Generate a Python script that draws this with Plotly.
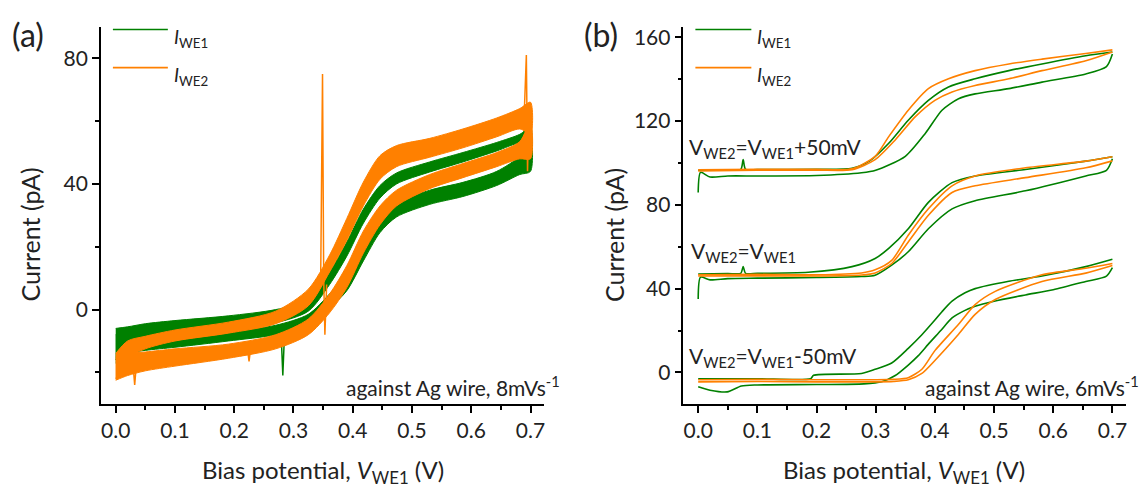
import plotly.graph_objects as go

GREEN = "#008000"
ORANGE = "#ff8000"
FONT = "Lato"

# ---------------- Panel (a): noisy bands (lo / hi edges) ----------------
A_X = [0.0, 0.02, 0.05, 0.1, 0.19, 0.27, 0.325, 0.361, 0.39, 0.418, 0.446, 0.474, 0.53, 0.586, 0.643, 0.682, 0.70]

A_G_LOW_LO = [-17, -14, -13, -12, -10, -8, -5, 0.5, 6, 15.5, 24.5, 29.5, 33.5, 36, 39.5, 43, 44]
A_G_LOW_HI = [-8, -9, -9, -8.5, -7, -5, -1.5, 5, 11.5, 21, 30, 34, 38, 40.5, 44, 49, 56]

A_G_UP_LO = [-16, -11.5, -9.5, -8, -6.3, -4.2, -0.5, 8, 17, 27.5, 35.5, 40, 43.8, 47, 50.5, 53, 52]
A_G_UP_HI = [-6, -5.5, -4.5, -3.5, -2, 0, 3, 12, 21.5, 32, 39.5, 43.5, 47, 50, 53.2, 55.8, 58]

A_O_LOW_LO = [-22.5, -21, -19.5, -18, -15.5, -12.5, -8, -1, 7, 18, 27, 33, 38.5, 42, 45.5, 48, 48]
A_O_LOW_HI = [-15, -14, -13.5, -12.5, -11, -8, -3, 5, 14, 25, 33, 38, 43, 46.5, 50, 53.5, 60]

A_O_UP_LO = [-22, -15.5, -12.5, -10, -7.5, -4.5, 1.2, 12, 22, 33, 41.5, 45.5, 48.5, 51.5, 55, 57.5, 56]
A_O_UP_HI = [-14, -10, -8.5, -6.5, -4, -0.5, 6.5, 17.4, 29, 40.6, 49, 52.2, 54.5, 57.5, 61, 64, 66]

# spikes in panel (a)
A_SPK_O1_X = [0.346, 0.349, 0.351, 0.353, 0.356]
A_SPK_O1_Y = [12, 75, 10, -8, 8]
A_SPK_O2_X = [0.689, 0.693, 0.695, 0.697]
A_SPK_O2_Y = [60, 81, 44, 62]
A_SPK_O3_X = [0.029, 0.032, 0.035]
A_SPK_O3_Y = [-17, -24, -17]
A_SPK_O4_X = [0.222, 0.225, 0.228]
A_SPK_O4_Y = [-12, -16.5, -12]
A_SPK_G1_X = [0.279, 0.282, 0.285]
A_SPK_G1_Y = [-7, -21, -7]

# ---------------- Panel (b): three groups of CV curves ----------------
# +50 mV group
B1_G_FWD_X = [0.0, 0.004, 0.02, 0.05, 0.1, 0.2, 0.276, 0.3, 0.35, 0.384, 0.412, 0.44, 0.468, 0.525, 0.581, 0.655, 0.69, 0.70]
B1_G_FWD_Y = [85.9, 95.5, 93.3, 93.8, 93.8, 94.0, 95.3, 96.5, 103.2, 114.2, 125.2, 130.7, 133.0, 135.5, 138.6, 142.5, 146.0, 152.0]
B1_G_REV_X = [0.0, 0.05, 0.072, 0.076, 0.08, 0.1, 0.2, 0.26, 0.29, 0.322, 0.355, 0.389, 0.423, 0.468, 0.525, 0.581, 0.655, 0.70]
B1_G_REV_Y = [96.5, 96.8, 97.0, 101.6, 97.0, 96.9, 97.0, 97.5, 101.0, 109.4, 120.4, 129.9, 136.3, 140.2, 144.1, 147.3, 151.2, 153.0]
B1_O_A_X = [0.0, 0.1, 0.2, 0.26, 0.299, 0.322, 0.355, 0.389, 0.423, 0.468, 0.525, 0.581, 0.655, 0.70]
B1_O_A_Y = [96.8, 97.0, 97.0, 97.2, 103.2, 112.6, 125.2, 135.5, 140.2, 144.1, 147.3, 149.6, 152.3, 154.0]
B1_O_B_X = [0.0, 0.1, 0.2, 0.26, 0.299, 0.333, 0.367, 0.40, 0.429, 0.468, 0.525, 0.581, 0.655, 0.70]
B1_O_B_Y = [96.2, 96.5, 96.6, 96.8, 101.6, 111.0, 122.1, 129.9, 133.9, 137.0, 140.2, 144.1, 148.8, 153.0]

# equal potential group
B2_G_FWD_X = [0.0, 0.004, 0.02, 0.05, 0.1, 0.2, 0.276, 0.299, 0.327, 0.355, 0.389, 0.429, 0.468, 0.553, 0.655, 0.69, 0.70]
B2_G_FWD_Y = [35.0, 45.5, 44.2, 44.8, 45.0, 45.3, 45.8, 46.4, 51.2, 57.6, 68.6, 78.1, 82.0, 86.7, 93.8, 96.5, 102.0]
B2_G_REV_X = [0.0, 0.05, 0.072, 0.076, 0.08, 0.1, 0.186, 0.26, 0.299, 0.322, 0.355, 0.389, 0.429, 0.468, 0.553, 0.655, 0.70]
B2_G_REV_Y = [47.0, 47.2, 47.3, 50.5, 47.3, 47.3, 47.8, 50.5, 54.4, 59.2, 68.6, 81.2, 90.6, 93.8, 96.9, 100.9, 103.0]
B2_O_A_X = [0.0, 0.1, 0.2, 0.276, 0.299, 0.327, 0.355, 0.389, 0.429, 0.468, 0.553, 0.655, 0.70]
B2_O_A_Y = [46.6, 46.8, 46.6, 47.5, 49.0, 53.5, 65.5, 78.1, 89.1, 93.8, 97.7, 100.9, 103.0]
B2_O_B_X = [0.0, 0.1, 0.2, 0.276, 0.299, 0.327, 0.355, 0.389, 0.429, 0.468, 0.553, 0.655, 0.70]
B2_O_B_Y = [46.0, 46.1, 46.0, 46.5, 47.5, 52.0, 62.3, 75.0, 85.9, 89.1, 93.0, 97.7, 101.0]

# -50 mV group
B3_G_FWD_X = [0.0, 0.02, 0.049, 0.073, 0.1, 0.2, 0.28, 0.31, 0.333, 0.355, 0.372, 0.389, 0.41, 0.429, 0.45, 0.468, 0.5, 0.553, 0.6, 0.655, 0.69, 0.70]
B3_G_FWD_Y = [-6.9, -8.5, -9.3, -6.5, -6.0, -5.8, -5.5, -4.5, -1.5, 3.5, 8.0, 13.5, 20.0, 26.0, 29.5, 31.6, 34.0, 37.0, 39.5, 43.4, 46.0, 50.0]
B3_G_REV_X = [0.0, 0.1, 0.19, 0.195, 0.276, 0.299, 0.327, 0.355, 0.378, 0.40, 0.412, 0.429, 0.451, 0.468, 0.525, 0.581, 0.655, 0.70]
B3_G_REV_Y = [-3.0, -3.0, -3.0, -1.4, -0.5, 1.5, 4.5, 11.5, 18.0, 25.0, 29.0, 34.0, 38.0, 40.0, 43.5, 46.0, 50.5, 54.0]
B3_O_A_X = [0.0, 0.1, 0.2, 0.3, 0.33, 0.355, 0.378, 0.40, 0.44, 0.468, 0.502, 0.581, 0.655, 0.70]
B3_O_A_Y = [-3.5, -3.3, -3.5, -3.5, -3.3, -2.5, 1.5, 10.4, 23.0, 32.4, 38.7, 46.6, 49.7, 52.0]
B3_O_B_X = [0.0, 0.1, 0.2, 0.3, 0.33, 0.355, 0.378, 0.40, 0.44, 0.468, 0.502, 0.581, 0.655, 0.70]
B3_O_B_Y = [-4.5, -4.3, -4.5, -4.5, -4.3, -3.5, -0.5, 5.7, 18.2, 27.7, 34.8, 43.4, 47.4, 51.0]

# axis settings
A_YRANGE = [-30, 90]
B_YRANGE = [-15, 165]
XRANGE = [-0.025, 0.723]
A_YTICKS = [0, 40, 80]
B_YTICKS = [0, 40, 80, 120, 160]
X_TICKS = [0.0, 0.1, 0.2, 0.3, 0.4, 0.5, 0.6, 0.7]

fig = go.Figure()


def band(x, lo, hi, color, xa, ya):
    fig.add_trace(go.Scatter(
        x=list(x) + list(x)[::-1], y=list(lo) + list(hi)[::-1],
        fill="toself", fillcolor=color, mode="lines",
        line=dict(color=color, width=1, shape="spline", smoothing=0.8),
        xaxis=xa, yaxis=ya, showlegend=False, hoverinfo="skip"))


def curve(x, y, color, xa, ya, w=1.6, shape="spline"):
    line = dict(color=color, width=w, shape=shape)
    if shape == "spline":
        line["smoothing"] = 0.7
    fig.add_trace(go.Scatter(x=x, y=y, mode="lines", line=line,
                             xaxis=xa, yaxis=ya, showlegend=False, hoverinfo="skip"))


# panel (a)
band(A_X, A_G_LOW_LO, A_G_LOW_HI, GREEN, "x", "y")
band(A_X, A_G_UP_LO, A_G_UP_HI, GREEN, "x", "y")
curve(A_SPK_G1_X, A_SPK_G1_Y, GREEN, "x", "y", 1.5, "linear")
band(A_X, A_O_LOW_LO, A_O_LOW_HI, ORANGE, "x", "y")
band(A_X, A_O_UP_LO, A_O_UP_HI, ORANGE, "x", "y")
for sx, sy in [(A_SPK_O1_X, A_SPK_O1_Y), (A_SPK_O2_X, A_SPK_O2_Y),
               (A_SPK_O3_X, A_SPK_O3_Y), (A_SPK_O4_X, A_SPK_O4_Y)]:
    curve(sx, sy, ORANGE, "x", "y", 1.5, "linear")

# panel (b)
for gx, gy in [(B1_G_FWD_X, B1_G_FWD_Y), (B1_G_REV_X, B1_G_REV_Y),
               (B2_G_FWD_X, B2_G_FWD_Y), (B2_G_REV_X, B2_G_REV_Y),
               (B3_G_FWD_X, B3_G_FWD_Y), (B3_G_REV_X, B3_G_REV_Y)]:
    curve(gx, gy, GREEN, "x2", "y2")
for ox, oy in [(B1_O_A_X, B1_O_A_Y), (B1_O_B_X, B1_O_B_Y),
               (B2_O_A_X, B2_O_A_Y), (B2_O_B_X, B2_O_B_Y),
               (B3_O_A_X, B3_O_A_Y), (B3_O_B_X, B3_O_B_Y)]:
    curve(ox, oy, ORANGE, "x2", "y2")

W, H = 1148, 488
AX_L, AX_R = 101 / W, 544.6 / W
BX_L, BX_R = 684 / W, 1127 / W
Y_B, Y_T = 1 - 403.3 / H, 1 - 24 / H

TICKFONT = dict(family=FONT, size=21, color="#222")
common_x = dict(range=XRANGE, tickvals=X_TICKS, ticktext=[f"{v:.1f}" for v in X_TICKS],
                showline=True, linecolor="black", linewidth=1.5, ticks="outside",
                ticklen=7, tickwidth=1.5, tickcolor="black", showgrid=False, zeroline=False,
                minor=dict(ticks="outside", ticklen=4, tickwidth=1.5, tickcolor="black", dtick=0.05, tick0=0),
                tickfont=TICKFONT, mirror=False)
common_y = dict(showline=True, linecolor="black", linewidth=1.5, ticks="outside",
                ticklen=7, tickwidth=1.5, tickcolor="black", showgrid=False, zeroline=False,
                tickfont=TICKFONT, mirror=False)

fig.update_layout(
    width=W, height=H, margin=dict(l=0, r=0, t=0, b=0),
    paper_bgcolor="white", plot_bgcolor="white", showlegend=False,
    font=dict(family=FONT, color="#222"),
    xaxis=dict(domain=[AX_L, AX_R], anchor="y", **common_x),
    yaxis=dict(domain=[Y_B, Y_T], anchor="x", range=A_YRANGE, tickvals=A_YTICKS,
               minor=dict(ticks="outside", ticklen=4, tickwidth=1.5, tickcolor="black", dtick=20, tick0=0),
               **common_y),
    xaxis2=dict(domain=[BX_L, BX_R], anchor="y2", **common_x),
    yaxis2=dict(domain=[Y_B, Y_T], anchor="x2", range=B_YRANGE, tickvals=B_YTICKS,
                minor=dict(ticks="outside", ticklen=4, tickwidth=1.5, tickcolor="black", dtick=20, tick0=0),
                **common_y),
)


def px(xp):
    return xp / W


def py(yp):
    return 1 - yp / H


ann = []


def text(x, y, s, size=20, xanchor="left", yanchor="middle", angle=0):
    ann.append(dict(x=px(x), y=py(y), xref="paper", yref="paper", text=s, showarrow=False,
                    xanchor=xanchor, yanchor=yanchor, textangle=angle,
                    font=dict(family=FONT, size=size, color="#222")))


# panel labels
text(28, 32, "(a)", 32, "center")
text(602, 32, "(b)", 32, "center")
# axis titles
text(30, 233, "Current (pA)", 25, "center", angle=-90)
text(614, 233, "Current (pA)", 25, "center", angle=-90)
text(323, 471, "Bias potential, <i>V</i><sub>WE1</sub> (V)", 24, "center")
text(905, 471, "Bias potential, <i>V</i><sub>WE1</sub> (V)", 24, "center")
# legends
shapes = []
for (x0, x1, yy, col) in [(113, 168, 26.7, GREEN), (113, 168, 65, ORANGE),
                          (696, 752, 26.7, GREEN), (696, 752, 65, ORANGE)]:
    shapes.append(dict(type="line", xref="paper", yref="paper", x0=px(x0), x1=px(x1),
                       y0=py(yy), y1=py(yy), line=dict(color=col, width=1.6)))
text(172, 35, "<i>I</i><sub>WE1</sub>", 19)
text(172, 73, "<i>I</i><sub>WE2</sub>", 19)
text(756, 35, "<i>I</i><sub>WE1</sub>", 19)
text(756, 73, "<i>I</i><sub>WE2</sub>", 19)
# in-plot notes
text(562, 385, "against Ag wire, 8mVs<sup>-1</sup>", 21, "right")
text(1142, 385, "against Ag wire, 6mVs<sup>-1</sup>", 21, "right")
text(688, 146, "V<sub>WE2</sub>=V<sub>WE1</sub>+50mV", 21)
text(690, 251, "V<sub>WE2</sub>=V<sub>WE1</sub>", 21)
text(688, 356, "V<sub>WE2</sub>=V<sub>WE1</sub>-50mV", 21)

fig.update_layout(annotations=ann, shapes=shapes)
fig.write_html("out.html", config={"displayModeBar": False},
               post_script="document.body.style.margin='0';")
